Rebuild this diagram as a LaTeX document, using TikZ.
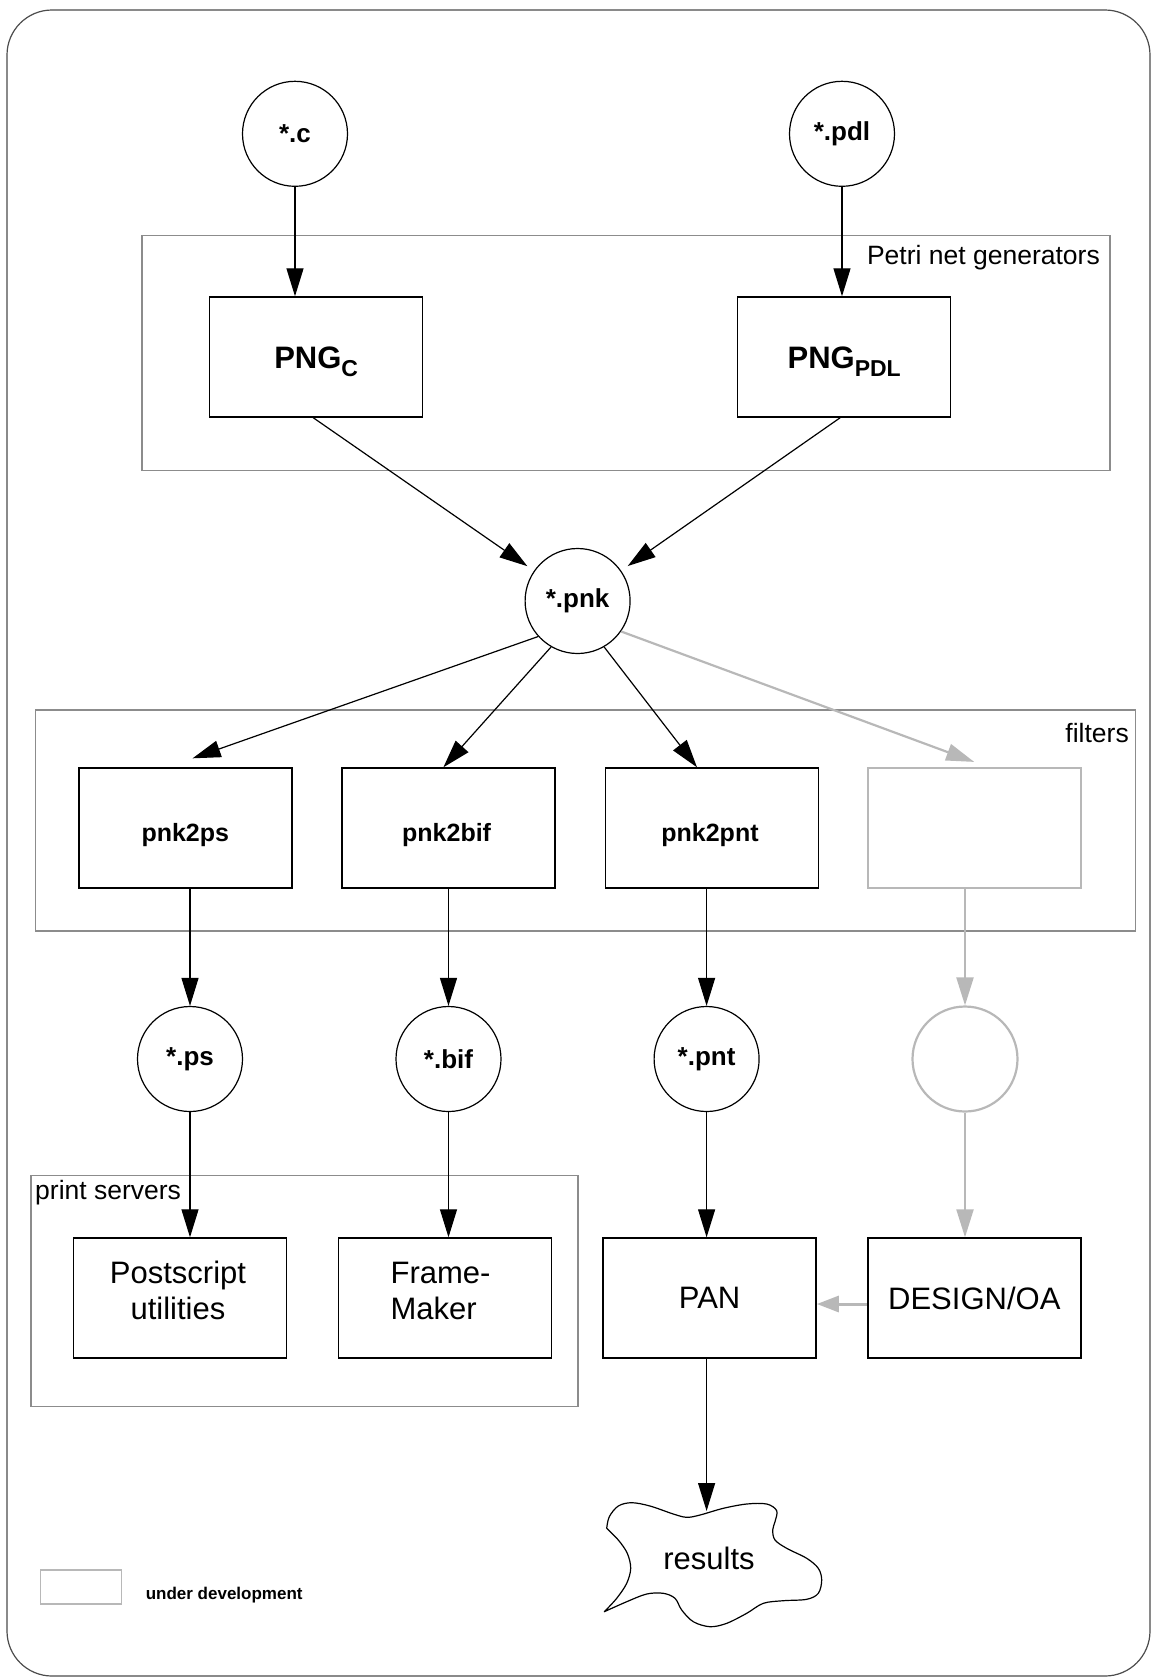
\documentclass[tikz,border=0pt]{standalone}
\usepackage{fontspec}
\setmainfont{Liberation Sans}
\usetikzlibrary{arrows.meta,calc}
\definecolor{devcol}{gray}{0.72}
\definecolor{grpcol}{gray}{0.55}
\definecolor{framecol}{gray}{0.3}
\begin{document}
\begin{tikzpicture}[x=1pt,y=-1pt,
  place/.style={circle,draw,line width=1.2pt,minimum size=105pt,inner sep=0pt,font=\bfseries\fontsize{26}{30}\selectfont},
  proc/.style={rectangle,draw,line width=1.4pt,minimum width=213pt,minimum height=120pt,inner sep=0pt,font=\fontsize{31}{36}\selectfont,align=center},
  filt/.style={proc,font=\bfseries\fontsize{25}{30}\selectfont},
  txt/.style={inner sep=0pt,align=center},
  grpbox/.style={rectangle,draw=grpcol,line width=1.4pt,inner sep=0pt},
  lbl/.style={inner sep=0pt,font=\fontsize{26.5}{30}\selectfont},
  arr/.style={-{Triangle[length=28pt,width=17pt]},line width=1.2pt},
  devarr/.style={arr,color=devcol,line width=2.2pt},
  devsmall/.style={-{Triangle[length=22pt,width=16pt]},color=devcol,line width=3pt}
]
\useasboundingbox (0,0) rectangle (1153,1679);
\draw[framecol,line width=1.2pt,rounded corners=45pt] (7,10) rectangle (1150,1676);

% group boxes
\node[grpbox,minimum width=968pt,minimum height=235pt] (gen) at (626,353) {};
\node[lbl,anchor=east] (genlbl) at (1100,258) {Petri net generators};
\node[grpbox,minimum width=1100pt,minimum height=221pt] (filters) at (585.5,820.3) {};
\node[lbl,anchor=east] (filtlbl) at (1129,733) {filters};
\node[grpbox,minimum width=547pt,minimum height=231pt] (print) at (304.5,1291) {};
\node[lbl,anchor=west] (printlbl) at (35,1193) {print servers};

% places
\node[place] (c) at (295,133.8) {*.c};
\node[place] (pdl) at (842,133.8) {*.pdl};
\node[place] (pnk) at (577.6,601) {*.pnk};
\node[place] (ps) at (190,1059) {*.ps};
\node[place] (bif) at (448.5,1059) {*.bif};
\node[place] (pnt) at (706.6,1059) {*.pnt};
\node[place,draw=devcol,line width=2.2pt] (devp) at (965,1059) {};

% generators
\node[proc] (gc) at (316.2,357) {};
\node[txt,font=\bfseries\fontsize{31}{36}\selectfont] (gctxt) at (316.2,362) {PNG\raisebox{-8pt}{\fontsize{23}{23}\selectfont C}};
\node[proc] (gp) at (844.2,357) {};
\node[txt,font=\bfseries\fontsize{31}{36}\selectfont] (gptxt) at (844.2,362) {PNG\raisebox{-8pt}{\fontsize{23}{23}\selectfont PDL}};

% filters
\node[filt] (f1) at (185.3,828) {};
\node[txt,font=\bfseries\fontsize{25}{30}\selectfont] (f1t) at (185.3,835) {pnk2ps};
\node[filt] (f2) at (448.6,828) {};
\node[txt,font=\bfseries\fontsize{25}{30}\selectfont] (f2t) at (446.6,835) {pnk2bif};
\node[filt] (f3) at (712,828) {};
\node[txt,font=\bfseries\fontsize{25}{30}\selectfont] (f3t) at (710,835) {pnk2pnt};
\node[filt,draw=devcol,line width=2.2pt] (f4) at (974.2,828) {};

% tools
\node[proc] (post) at (180.2,1298) {};
\node[txt,font=\fontsize{31}{36}\selectfont] (postt) at (178,1290.5) {Postscript\\utilities};
\node[proc] (fm) at (444.9,1298) {};
\node[txt,align=left,font=\fontsize{31}{36}\selectfont] (fmt) at (440.5,1290.5) {Frame-\\Maker};
\node[proc] (pan) at (709.6,1298) {PAN};
\node[proc] (des) at (974.3,1298) {DESIGN/OA};

% results cloud
\draw[line width=1.2pt,line join=round]
  plot[smooth,tension=0.55] coordinates {(606.7,1528.3) (609.3,1516.7) (618.3,1506) (631.7,1502.7) (650,1506) (673.3,1514) (686.7,1517.3) (700,1515) (723.3,1508.3) (746.7,1504) (766.7,1504) (776.7,1510.7) (775,1521.7) (772.7,1530) (775,1540) (786.7,1548.3) (806.7,1558.3) (818.3,1568.3) (821.7,1580) (818.3,1593.3) (806.7,1599.3) (783.3,1600.7) (763.3,1603.3) (746.7,1613.3) (726.7,1623.3) (710,1626.7) (693.3,1621.7) (681.7,1610) (675,1598.3) (663.3,1593.3) (646.7,1594) (626.7,1601.7) (604.3,1611.7)}
  -- plot[smooth,tension=0.55] coordinates {(604.3,1611.7) (616.7,1598.3) (626.7,1583.3) (630.7,1568.3) (627.3,1553.3) (618.3,1540) (606.7,1528.3)};
\node[inner sep=0pt,font=\fontsize{31}{36}\selectfont] (results) at (709,1558) {results};
\coordinate (restop) at (706.6,1511);

% legend
\node[rectangle,draw=devcol,line width=1.5pt,minimum width=81pt,minimum height=34pt,inner sep=0pt] (legbox) at (80.8,1587) {};
\node[inner sep=0pt,anchor=west,font=\bfseries\fontsize{17}{20}\selectfont] (legtxt) at (145.6,1595) {under development};

% connectors
\draw[arr] (c) -- (c |- gc.north);
\draw[arr] (pdl) -- (pdl |- gp.north);
\draw[arr,shorten >=8pt] ($(gc.south)+(-3,0)$) -- (pnk);
\draw[arr,shorten >=8pt] ($(gp.south)+(-4,0)$) -- (pnk);
\draw[arr] (pnk.222) -- ($(f1.north)+(7.3,-9)$);
\draw[arr] (pnk.240) -- ($(f2.north)+(-5.2,0)$);
\draw[arr] (pnk.300) -- ($(f3.north)+(-15,0)$);
\draw[devarr] (pnk.325) -- ($(f4.north)+(0,-5)$);
\draw[arr] (ps |- f1.south) -- (ps);
\draw[arr] (bif |- f2.south) -- (bif);
\draw[arr] (pnt |- f3.south) -- (pnt);
\draw[devarr] (devp |- f4.south) -- (devp);
\draw[arr] (ps) -- (ps |- post.north);
\draw[arr] (bif) -- (bif |- fm.north);
\draw[arr] (pnt) -- (pnt |- pan.north);
\draw[devarr] (devp) -- (devp |- des.north);
\draw[devsmall] ($(des.west)+(0,6)$) -- ($(pan.east)+(0,6)$);
\draw[arr] (pnt |- pan.south) -- (restop);
\end{tikzpicture}
\end{document}
